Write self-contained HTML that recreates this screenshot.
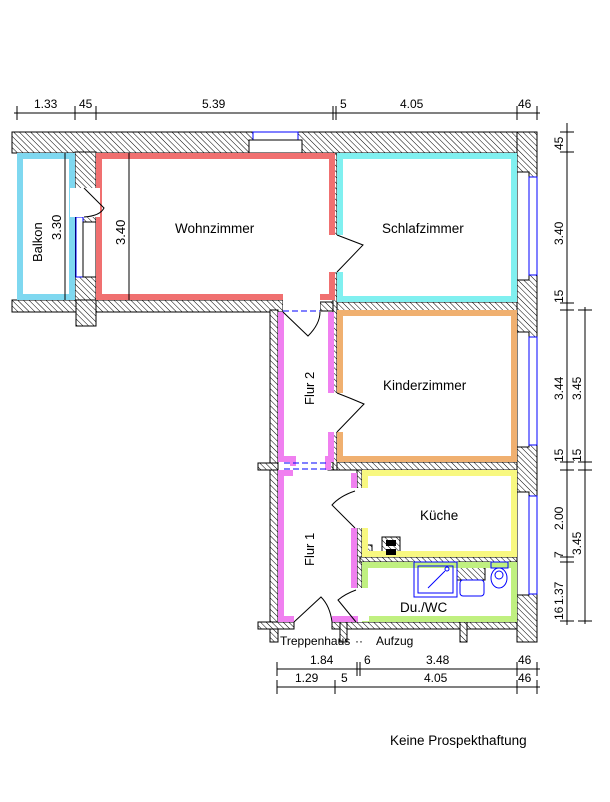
<!DOCTYPE html>
<html><head><meta charset="utf-8"><style>
html,body{margin:0;padding:0;background:#fff;}
svg{display:block;}
text{font-family:"Liberation Sans",sans-serif;fill:#000;}
</style></head><body>
<svg width="610" height="802" viewBox="0 0 610 802" xmlns="http://www.w3.org/2000/svg">
<defs>
<pattern id="h" width="4" height="4" patternUnits="userSpaceOnUse" patternTransform="rotate(-45)">
<rect width="4" height="4" fill="#fff"/><line x1="0" y1="0" x2="0" y2="4" stroke="#000" stroke-width="1"/>
</pattern>
</defs>
<g stroke="#000" stroke-width="1">
<rect x="12" y="132" width="525" height="21" fill="url(#h)"/>
<rect x="517" y="132" width="20" height="510" fill="url(#h)"/>
<rect x="75" y="152" width="21" height="150" fill="url(#h)"/>
<rect x="12" y="300" width="271" height="12" fill="url(#h)"/>
<rect x="76" y="300" width="20" height="26" fill="url(#h)"/>
<rect x="320" y="302" width="197" height="9" fill="url(#h)"/>
<rect x="270" y="310" width="8" height="332" fill="url(#h)"/>
<rect x="258" y="463" width="20" height="7" fill="url(#h)"/>
<rect x="328" y="462" width="189" height="8" fill="url(#h)"/>
<rect x="258" y="622" width="36" height="7" fill="url(#h)"/>
<rect x="332" y="622" width="185" height="7" fill="url(#h)"/>
<rect x="340" y="622" width="7" height="20" fill="url(#h)"/>
<rect x="460" y="622" width="7" height="20" fill="url(#h)"/>
<rect x="333" y="153" width="4" height="317" fill="url(#h)"/>
<rect x="357" y="470" width="5" height="152" fill="url(#h)"/>
<rect x="360" y="557" width="157" height="5" fill="url(#h)"/>
<rect x="362" y="545" width="10" height="12" fill="url(#h)"/>
<rect x="382" y="537" width="18" height="20" fill="url(#h)"/>
<rect x="457" y="562" width="28" height="18" fill="url(#h)"/>
</g>
<rect x="75" y="188" width="22" height="29" fill="#fff"/>
<rect x="76" y="217" width="7" height="60" fill="#fff" stroke="#00f"/>
<rect x="83" y="222" width="13" height="55" fill="#fff" stroke="#000"/>
<rect x="253" y="132" width="45" height="8" fill="#fff" stroke="#00f"/>
<rect x="249" y="140" width="53" height="13" fill="#fff" stroke="#000"/>
<rect x="331" y="235" width="8" height="37" fill="#fff"/>
<rect x="331" y="393" width="8" height="39" fill="#fff"/>
<rect x="355" y="488" width="9" height="40" fill="#fff"/>
<rect x="355" y="588" width="9" height="34" fill="#fff"/>
<g fill="#fff" stroke="#000">
<rect x="517" y="172" width="12" height="108"/>
<rect x="517" y="332" width="12" height="115"/>
<rect x="517" y="492" width="12" height="103"/>
</g>
<g fill="#fff" stroke="#00f">
<rect x="529" y="177" width="8" height="98"/>
<rect x="529" y="337" width="8" height="108"/>
<rect x="529" y="496" width="8" height="98"/>
</g>
<g fill="none" stroke-width="6">
<rect x="20" y="156" width="52" height="141" stroke="#7fd8f0"/>
<rect x="99" y="156" width="233" height="141" stroke="#f07070"/>
<rect x="340" y="156" width="174" height="143" stroke="#80f0f0"/>
<rect x="340" y="313" width="174" height="146" stroke="#f0b070"/>
<rect x="365" y="473" width="149" height="81" stroke="#f8f880"/>
<rect x="365" y="565" width="149" height="54" stroke="#c0f080"/>
</g>
<rect x="70" y="188" width="30" height="29" fill="#fff"/>
<rect x="326" y="235" width="18" height="37" fill="#fff"/>
<rect x="330" y="393" width="14" height="39" fill="#fff"/>
<rect x="355" y="488" width="14" height="40" fill="#fff"/>
<rect x="355" y="588" width="14" height="33" fill="#fff"/>
<rect x="283" y="294" width="37" height="20" fill="#fff"/>
<g fill="none" stroke="#f080f0" stroke-width="6">
<polyline points="281,312 281,459 293,459 293,466"/>
<polyline points="331,312 331,393"/>
<polyline points="331,432 331,459 328,459 328,470"/>
<polyline points="293,473 281,473 281,619 294,619"/>
<polyline points="354,473 354,488"/>
<polyline points="354,528 354,588"/>
<polyline points="332,619 358,619"/>
</g>
<g stroke="#00f" stroke-dasharray="6,3" stroke-width="1">
<line x1="283" y1="311" x2="320" y2="311"/>
<line x1="284" y1="463" x2="328" y2="463"/>
<line x1="284" y1="469" x2="328" y2="469"/>
</g>
<g fill="none" stroke="#000" stroke-width="1">
<path d="M84,188 L104,208 Q100,216 84,217"/>
<path d="M337,235 Q350,240 363,245 L337,272"/>
<path d="M283,312 L308,336 Q320,324 320,312"/>
<path d="M337,393 Q350,398 364,404 L337,432"/>
<path d="M355,491 Q340,496 332,505 L355,528"/>
<path d="M356,590 Q345,594 338,600 L356,622"/>
<path d="M294,622 L321,597 Q330,606 332,622"/>
<line x1="129" y1="153" x2="129" y2="300"/>
<line x1="65" y1="153" x2="65" y2="300"/>
</g>
<rect x="386" y="540" width="10" height="6" fill="#000"/>
<rect x="386" y="549" width="10" height="6" fill="#000"/>
<g fill="none" stroke="#00f" stroke-width="1">
<rect x="414" y="562" width="43" height="35"/>
<rect x="418" y="566" width="35" height="27"/>
<line x1="428" y1="588" x2="445" y2="571"/>
<circle cx="447" cy="569" r="2"/>
<rect x="460" y="580" width="24" height="16" rx="3"/>
<rect x="491" y="562" width="17" height="6"/>
<ellipse cx="499" cy="578" rx="8" ry="10"/>
<ellipse cx="499" cy="575" rx="4" ry="4"/>
</g>
<g stroke="#000" stroke-width="1" fill="none">
<line x1="14" y1="113" x2="540" y2="113"/>
<line x1="277" y1="669" x2="540" y2="669"/>
<line x1="277" y1="687" x2="540" y2="687"/>
<line x1="567" y1="123" x2="567" y2="625"/>
<line x1="585" y1="307" x2="585" y2="624"/>
</g>
<g stroke="#000" stroke-width="1">
<path d="M17,106v14M75,106v14M96,106v14M333,106v14M336,106v14M517,106v14M537,106v14"/>
<path d="M277,662v14M357,662v14M360,662v14M517,662v14M537,662v14"/>
<path d="M277,680v14M335,680v14M517,680v14M537,680v14"/>
<path d="M560,132h14M560,152h14M560,303h14M560,310h14M560,462h14M560,470h14M560,557h14M560,562h14M560,621h14"/>
<path d="M578,310h14M578,462h14M578,470h14M578,621h14"/>
</g>
<g font-size="12">
<text x="34" y="108">1.33</text>
<text x="79" y="108">45</text>
<text x="202" y="108">5.39</text>
<text x="340" y="108">5</text>
<text x="400" y="108">4.05</text>
<text x="518" y="108">46</text>
<text x="310" y="664">1.84</text>
<text x="364" y="664">6</text>
<text x="426" y="664">3.48</text>
<text x="518" y="664">46</text>
<text x="295" y="682">1.29</text>
<text x="341" y="682">5</text>
<text x="424" y="682">4.05</text>
<text x="518" y="682">46</text>
</g>
<g font-size="12">
<text transform="translate(563,150) rotate(-90)">45</text>
<text transform="translate(563,245) rotate(-90)">3.40</text>
<text transform="translate(563,303) rotate(-90)">15</text>
<text transform="translate(563,400) rotate(-90)">3.44</text>
<text transform="translate(581,400) rotate(-90)">3.45</text>
<text transform="translate(563,462) rotate(-90)">15</text>
<text transform="translate(581,462) rotate(-90)">15</text>
<text transform="translate(563,530) rotate(-90)">2.00</text>
<text transform="translate(581,555) rotate(-90)">3.45</text>
<text transform="translate(563,558) rotate(-90)">7</text>
<text transform="translate(563,605) rotate(-90)">1.37</text>
<text transform="translate(563,620) rotate(-90)">16</text>
<text transform="translate(42,262) rotate(-90)" font-size="13">Balkon</text>
<text transform="translate(61,240) rotate(-90)" font-size="13">3.30</text>
<text transform="translate(125,245) rotate(-90)" font-size="13">3.40</text>
<text transform="translate(314,405) rotate(-90)" font-size="13">Flur 2</text>
<text transform="translate(314,566) rotate(-90)" font-size="13">Flur 1</text>
</g>
<g font-size="13.5">
<text x="175" y="233">Wohnzimmer</text>
<text x="382" y="233">Schlafzimmer</text>
<text x="383" y="390">Kinderzimmer</text>
<text x="420" y="520">Küche</text>
<text x="400" y="612">Du./WC</text>
<text x="390" y="745">Keine  Prospekthaftung</text>
</g>
<g font-size="12">
<text x="280" y="645">Treppenhaus</text>
<text x="355" y="645">··</text>
<text x="376" y="645">Aufzug</text>
</g>
</svg>
</body></html>
